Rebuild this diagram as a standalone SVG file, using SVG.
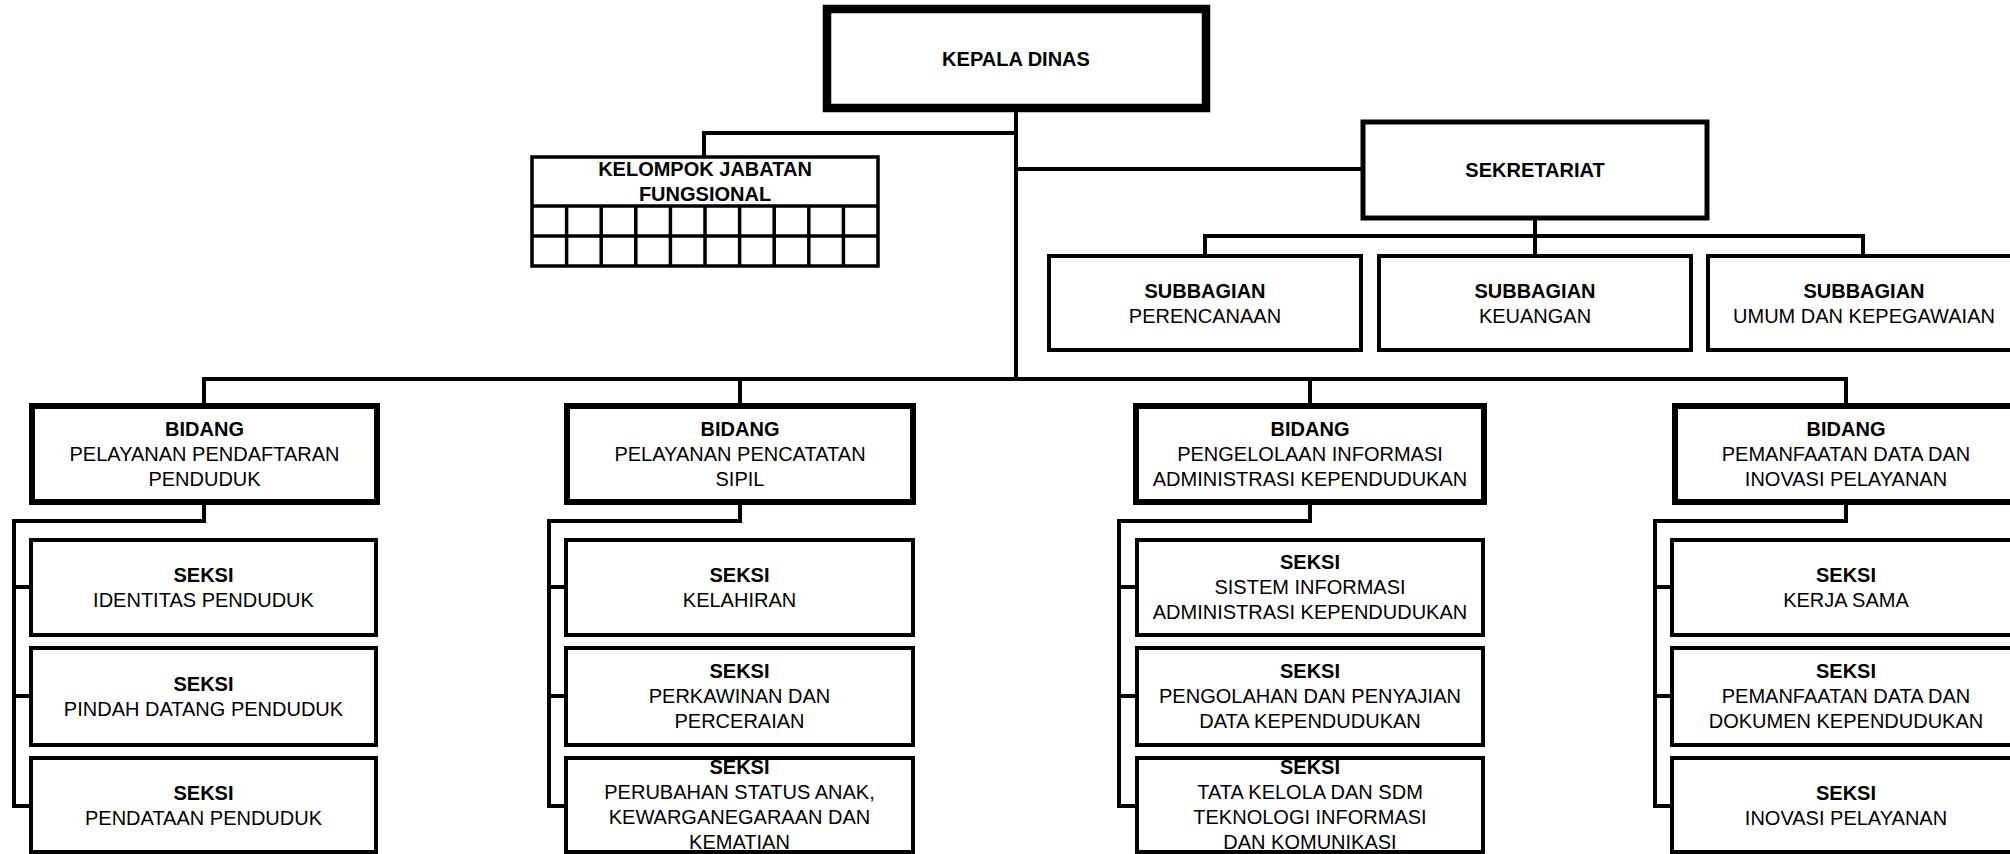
<svg xmlns="http://www.w3.org/2000/svg" width="2010" height="854" viewBox="0 0 2010 854">
<style>
  rect { fill: #fff; stroke: #000; }
  .k { stroke-width: 8.5; }
  .bd { stroke-width: 6; }
  .sk { stroke-width: 5; }
  .n { stroke-width: 4; }
  .g { stroke-width: 3.5; }
  .c { fill: none; stroke: #000; stroke-width: 4; }
  .gl { fill: none; stroke: #000; stroke-width: 3.5; }
  text { font-family: "Liberation Sans", Arial, sans-serif; font-size: 20px; fill: #000; text-anchor: middle; }
  .b { font-weight: bold; }
</style>
<rect x="0" y="0" width="2010" height="854" style="fill:#fff;stroke:none"/>

<g id="connectors">
  <path class="c" d="M1016 112 V379 M704 157 V133 H1016 M1016 169 H1363"/>
  <path class="c" d="M1535 220 V254 M1205 254 V236 H1863 V254"/>
  <path class="c" d="M204 403 V379 H1846 V403 M740 379 V403 M1310 379 V403"/>
  <path class="c" d="M204 505 V521 H14 V806 H31 M14 587 H31 M14 696 H31"/>
  <path class="c" d="M740 505 V521 H549 V806 H566 M549 587 H566 M549 696 H566"/>
  <path class="c" d="M1310 505 V521 H1119 V806 H1137 M1119 587 H1137 M1119 696 H1137"/>
  <path class="c" d="M1846 505 V521 H1655 V806 H1672 M1655 587 H1672 M1655 696 H1672"/>
</g>

<g id="kepala-dinas">
  <rect class="k" x="827" y="9" width="379" height="99"/>
  <text class="b" x="1016" y="66">KEPALA DINAS</text>
</g>

<g id="kelompok-jabatan-fungsional">
  <rect class="g" x="532" y="157" width="346" height="109"/>
  <path class="gl" d="M532 206 H878 M532 236 H878 M566.6 206 V266 M601.2 206 V266 M635.8 206 V266 M670.4 206 V266 M705 206 V266 M739.6 206 V266 M774.2 206 V266 M808.8 206 V266 M843.4 206 V266"/>
  <text class="b" x="705" y="176">KELOMPOK JABATAN</text>
  <text class="b" x="705" y="201">FUNGSIONAL</text>
</g>

<g id="sekretariat">
  <rect class="sk" x="1363" y="122" width="344" height="96"/>
  <text class="b" x="1535" y="177">SEKRETARIAT</text>
</g>

<g id="subbagian-perencanaan">
  <rect class="n" x="1049" y="256" width="312" height="94"/>
  <text class="b" x="1205" y="298">SUBBAGIAN</text>
  <text x="1205" y="323">PERENCANAAN</text>
</g>
<g id="subbagian-keuangan">
  <rect class="n" x="1379" y="256" width="312" height="94"/>
  <text class="b" x="1535" y="298">SUBBAGIAN</text>
  <text x="1535" y="323">KEUANGAN</text>
</g>
<g id="subbagian-umum">
  <rect class="n" x="1708" y="256" width="312" height="94"/>
  <text class="b" x="1864" y="298">SUBBAGIAN</text>
  <text x="1864" y="323">UMUM DAN KEPEGAWAIAN</text>
</g>

<g id="bidang-pendaftaran">
  <rect class="bd" x="32" y="406" width="345" height="96"/>
  <text class="b" x="204.5" y="436">BIDANG</text>
  <text x="204.5" y="461">PELAYANAN PENDAFTARAN</text>
  <text x="204.5" y="486">PENDUDUK</text>
</g>
<g id="bidang-pencatatan">
  <rect class="bd" x="567" y="406" width="346" height="96"/>
  <text class="b" x="740" y="436">BIDANG</text>
  <text x="740" y="461">PELAYANAN PENCATATAN</text>
  <text x="740" y="486">SIPIL</text>
</g>
<g id="bidang-pengelolaan">
  <rect class="bd" x="1136" y="406" width="348" height="96"/>
  <text class="b" x="1310" y="436">BIDANG</text>
  <text x="1310" y="461">PENGELOLAAN INFORMASI</text>
  <text x="1310" y="486">ADMINISTRASI KEPENDUDUKAN</text>
</g>
<g id="bidang-pemanfaatan">
  <rect class="bd" x="1675" y="406" width="345" height="96"/>
  <text class="b" x="1846" y="436">BIDANG</text>
  <text x="1846" y="461">PEMANFAATAN DATA DAN</text>
  <text x="1846" y="486">INOVASI PELAYANAN</text>
</g>

<g id="seksi-identitas">
  <rect class="n" x="31" y="540" width="345" height="95"/>
  <text class="b" x="203.5" y="582">SEKSI</text>
  <text x="203.5" y="607">IDENTITAS PENDUDUK</text>
</g>
<g id="seksi-pindah-datang">
  <rect class="n" x="31" y="648" width="345" height="97"/>
  <text class="b" x="203.5" y="691">SEKSI</text>
  <text x="203.5" y="716">PINDAH DATANG PENDUDUK</text>
</g>
<g id="seksi-pendataan">
  <rect class="n" x="31" y="758" width="345" height="94"/>
  <text class="b" x="203.5" y="800">SEKSI</text>
  <text x="203.5" y="825">PENDATAAN PENDUDUK</text>
</g>

<g id="seksi-kelahiran">
  <rect class="n" x="566" y="540" width="347" height="95"/>
  <text class="b" x="739.5" y="582">SEKSI</text>
  <text x="739.5" y="607">KELAHIRAN</text>
</g>
<g id="seksi-perkawinan">
  <rect class="n" x="566" y="648" width="347" height="97"/>
  <text class="b" x="739.5" y="678">SEKSI</text>
  <text x="739.5" y="703">PERKAWINAN DAN</text>
  <text x="739.5" y="728">PERCERAIAN</text>
</g>
<g id="seksi-perubahan-status">
  <rect class="n" x="566" y="758" width="347" height="94"/>
  <text class="b" x="739.5" y="774">SEKSI</text>
  <text x="739.5" y="799">PERUBAHAN STATUS ANAK,</text>
  <text x="739.5" y="824">KEWARGANEGARAAN DAN</text>
  <text x="739.5" y="849">KEMATIAN</text>
</g>

<g id="seksi-sistem-informasi">
  <rect class="n" x="1137" y="540" width="346" height="95"/>
  <text class="b" x="1310" y="569">SEKSI</text>
  <text x="1310" y="594">SISTEM INFORMASI</text>
  <text x="1310" y="619">ADMINISTRASI KEPENDUDUKAN</text>
</g>
<g id="seksi-pengolahan">
  <rect class="n" x="1137" y="648" width="346" height="97"/>
  <text class="b" x="1310" y="678">SEKSI</text>
  <text x="1310" y="703">PENGOLAHAN DAN PENYAJIAN</text>
  <text x="1310" y="728">DATA KEPENDUDUKAN</text>
</g>
<g id="seksi-tata-kelola">
  <rect class="n" x="1137" y="758" width="346" height="94"/>
  <text class="b" x="1310" y="774">SEKSI</text>
  <text x="1310" y="799">TATA KELOLA DAN SDM</text>
  <text x="1310" y="824">TEKNOLOGI INFORMASI</text>
  <text x="1310" y="849">DAN KOMUNIKASI</text>
</g>

<g id="seksi-kerja-sama">
  <rect class="n" x="1672" y="540" width="348" height="95"/>
  <text class="b" x="1846" y="582">SEKSI</text>
  <text x="1846" y="607">KERJA SAMA</text>
</g>
<g id="seksi-pemanfaatan-data">
  <rect class="n" x="1672" y="648" width="348" height="97"/>
  <text class="b" x="1846" y="678">SEKSI</text>
  <text x="1846" y="703">PEMANFAATAN DATA DAN</text>
  <text x="1846" y="728">DOKUMEN KEPENDUDUKAN</text>
</g>
<g id="seksi-inovasi">
  <rect class="n" x="1672" y="758" width="348" height="94"/>
  <text class="b" x="1846" y="800">SEKSI</text>
  <text x="1846" y="825">INOVASI PELAYANAN</text>
</g>
</svg>
